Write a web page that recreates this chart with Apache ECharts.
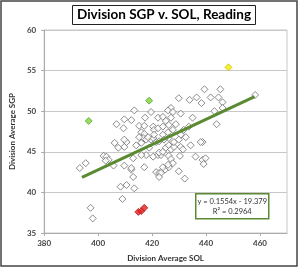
<!DOCTYPE html>
<html>
<head>
<meta charset="utf-8">
<script src="https://cdn.jsdelivr.net/npm/echarts@6/dist/echarts.min.js"></script>
<style>
  html, body { margin: 0; padding: 0; background: #fff; }
  #chart { width: 300px; height: 268px; }
</style>
</head>
<body>
<div id="chart"></div>
<script>
// ── Data ──────────────────────────────────────────────────────────────────
const divisions = [
  [393.2, 43.0], [395.4, 43.6], [397.2, 38.1], [398.0, 36.8], [402.0, 44.5],
  [403.1, 44.4], [403.9, 44.0], [402.8, 43.9], [406.1, 46.1], [407.5, 45.5],
  [410.5, 46.2], [405.7, 43.3], [409.7, 43.3], [412.3, 42.8], [413.0, 41.9],
  [408.3, 40.7], [410.5, 40.9], [413.4, 40.5], [409.0, 39.2], [417.1, 43.1],
  [418.9, 45.5], [417.8, 44.6], [414.1, 45.8], [416.0, 46.1], [409.7, 45.6],
  [419.6, 46.5], [421.5, 46.2], [416.0, 44.6], [420.4, 44.4], [422.2, 44.6],
  [413.0, 44.2], [421.5, 42.5], [422.6, 42.4], [423.3, 44.6], [422.6, 44.9],
  [424.0, 45.0], [425.1, 45.5], [426.2, 45.8], [427.0, 45.3], [428.1, 45.6],
  [430.6, 45.6], [431.4, 45.3], [434.3, 45.8], [438.7, 46.2], [426.2, 44.5],
  [427.0, 44.1], [427.7, 43.6], [430.3, 44.5], [424.8, 42.8], [423.3, 42.4],
  [422.6, 41.9], [424.0, 43.1], [426.2, 43.1], [429.9, 42.6], [436.1, 44.4],
  [438.7, 44.0], [439.8, 44.2], [439.1, 43.5], [432.1, 41.7], [406.8, 48.4],
  [409.7, 49.0], [412.3, 48.9], [413.4, 50.1], [409.4, 47.9], [415.2, 48.2],
  [417.4, 49.2], [417.1, 48.2], [416.0, 47.4], [417.1, 47.2], [420.4, 48.1],
  [419.6, 49.9], [422.2, 49.2], [420.7, 47.7], [422.2, 47.9], [409.7, 46.5],
  [416.7, 46.7], [417.8, 46.5], [420.4, 46.7], [420.7, 47.1], [415.2, 46.8],
  [418.5, 46.8], [439.4, 52.7], [445.3, 52.7], [429.9, 51.6], [433.9, 51.4],
  [436.5, 51.7], [438.3, 51.0], [441.7, 51.7], [444.6, 51.7], [446.1, 51.1],
  [427.0, 50.4], [425.9, 50.1], [427.7, 49.9], [430.6, 49.7], [424.0, 49.3],
  [425.1, 48.8], [427.0, 49.2], [435.0, 49.2], [443.1, 50.0], [446.1, 50.4],
  [426.2, 48.3], [428.8, 48.4], [424.0, 48.1], [433.6, 48.1], [443.9, 48.4],
  [427.7, 47.7], [425.9, 47.4], [424.0, 47.1], [431.7, 47.7], [430.6, 47.1],
  [432.5, 46.8], [426.2, 46.7], [428.1, 46.2], [429.9, 46.5], [438.0, 46.2],
  [422.6, 46.3], [424.4, 46.5], [458.2, 52.0], [425.9, 43.4], [412.3, 43.0]
];
const greenDivisions = [[396.5, 48.8], [418.9, 51.3]];
const yellowDivisions = [[448.3, 55.4]];
const redDivisions = [[414.9, 37.6], [416.0, 37.7], [417.1, 38.1]];
const trendLine = [[394, 41.85], [458, 51.79]];
const equationText = ['y = 0.1554x - 19.379', 'R\u00b2 = 0.2964'];

const FONT = 'Lato, "Open Sans", sans-serif';

// ── Chart ─────────────────────────────────────────────────────────────────
const chart = echarts.init(document.getElementById('chart'), null, { renderer: 'canvas' });

const diamond = (data, color, border, z) => ({
  type: 'scatter',
  data,
  symbol: 'diamond',
  symbolSize: 7,
  z,
  itemStyle: { color, borderColor: border, borderWidth: 1 },
});

chart.setOption({
  animation: false,
  title: {
    text: 'Division SGP v. SOL, Reading',
    left: 72,
    top: 5,
    padding: [3, 5, 3, 5],
    borderWidth: 1,
    borderColor: '#222',
    textStyle: { fontFamily: FONT, fontSize: 13.5, fontWeight: 'bold', color: '#000' },
  },
  grid: { left: 40, right: 13, top: 30, bottom: 35, show: true, borderColor: '#c8c8c8', borderWidth: 1 },
  xAxis: {
    type: 'value',
    min: 380, max: 470, interval: 20,
    name: 'Division Average SOL',
    nameLocation: 'middle',
    nameGap: 21,
    nameTextStyle: { fontFamily: FONT, fontSize: 8, fontWeight: 'bold', color: '#333' },
    axisLine: { show: true, lineStyle: { color: '#aaa' } },
    axisTick: { show: true, length: 3, lineStyle: { color: '#aaa' } },
    axisLabel: { fontFamily: FONT, fontSize: 8, fontWeight: 'bold', color: '#444', margin: 6, showMaxLabel: false },
    splitLine: { show: false },
  },
  yAxis: {
    type: 'value',
    min: 35, max: 60, interval: 5,
    name: 'Division Average SGP',
    nameLocation: 'middle',
    nameGap: 26,
    nameTextStyle: { fontFamily: FONT, fontSize: 8, fontWeight: 'bold', color: '#333' },
    axisLine: { show: true, lineStyle: { color: '#aaa' } },
    axisTick: { show: true, length: 3, lineStyle: { color: '#aaa' } },
    axisLabel: { fontFamily: FONT, fontSize: 8, fontWeight: 'bold', color: '#444', margin: 8 },
    splitLine: { show: true, lineStyle: { color: '#c8c8c8', width: 1 } },
  },
  series: [
    diamond(divisions, '#fff', '#6e6e6e', 2),
    {
      type: 'line',
      data: trendLine,
      symbol: 'none',
      z: 3,
      lineStyle: { color: '#5a8a32', width: 3 },
    },
    diamond(greenDivisions, '#7ad33a', '#5aa82a', 4),
    diamond(yellowDivisions, '#f2ee00', '#c8c000', 4),
    diamond(redDivisions, '#e02020', '#c01818', 4),
  ],
  graphic: [
    {
      type: 'rect',
      shape: { x: 1, y: 1, width: 296, height: 265 },
      style: { fill: 'none', stroke: '#444', lineWidth: 1.5 },
      silent: true,
    },
    {
      type: 'group',
      left: 195, top: 193,
      children: [
        {
          type: 'rect',
          shape: { x: 0, y: 0, width: 73, height: 25 },
          style: { fill: '#fff', stroke: '#5a8a32', lineWidth: 1.5 },
        },
        {
          type: 'text',
          x: 36.5, y: 3,
          style: {
            text: equationText.join('\n'),
            align: 'center',
            fontFamily: FONT, fontSize: 7.5, lineHeight: 10, fill: '#333',
          },
        },
      ],
    },
  ],
});

window.addEventListener('resize', () => chart.resize());
</script>
</body>
</html>
